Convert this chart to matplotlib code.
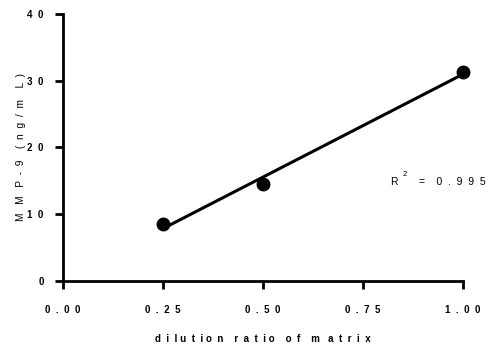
import numpy as np
import matplotlib
matplotlib.use("Agg")
import matplotlib.pyplot as plt

plt.rcParams['font.family'] = ['Liberation Sans', 'DejaVu Sans']

# data
dilution = [0.25, 0.5, 1.0]
mmp9 = [8.5, 14.6, 31.3]
xticks = [0.0, 0.25, 0.5, 0.75, 1.0]
xtick_labels = ["0  .  0  0", "0  .  2  5", "0  .  5  0", "0  .  7  5", "1  .  0  0"]
yticks = [0, 10, 20, 30, 40]
ytick_labels = ["0", "1  0", "2  0", "3  0", "4  0"]

slope, icpt = np.polyfit(dilution, mmp9, 1)
fit_x = np.array([min(dilution), max(dilution)])

fig = plt.figure(figsize=(4.92, 3.45), dpi=100)
ax = fig.add_axes([0.128, 0.1855, 0.813, 0.774])

ax.plot(fit_x, slope * fit_x + icpt, color="black", lw=2.2, zorder=2)
ax.plot(dilution, mmp9, "o", color="black", ms=9, zorder=3, clip_on=False)

ax.set_xlim(0, 1)
ax.set_ylim(0, 40)
ax.set_xticks(xticks)
ax.set_xticklabels(xtick_labels, fontsize=7, fontweight="bold")
ax.set_yticks(yticks)
ax.set_yticklabels(ytick_labels, fontsize=7, fontweight="bold")
ax.tick_params(axis="x", direction="out", length=6, width=2, pad=11)
ax.tick_params(axis="y", direction="out", length=6, width=2, pad=8)

for s in ["top", "right"]:
    ax.spines[s].set_visible(False)
for s in ["left", "bottom"]:
    ax.spines[s].set_linewidth(2)

ax.set_ylabel("M   M   P  -  9    (  n  g  /  m    L  )", fontsize=7.3, labelpad=1)
ax.set_xlabel("d  i  l u  t  i o  n    r  a  t  i o    o  f    m   a  t  r  i  x",
              fontsize=7, fontweight="bold", labelpad=14)

ax.text(0.8175, 14.8, "R", fontsize=7.5, ha="left", va="center")
ax.text(0.85, 16.0, "2", fontsize=5.5, ha="left", va="center")
ax.text(0.89, 14.8, "=    0  .  9  9  5", fontsize=7.5, ha="left", va="center")

fig.savefig("out.png", dpi=100)
